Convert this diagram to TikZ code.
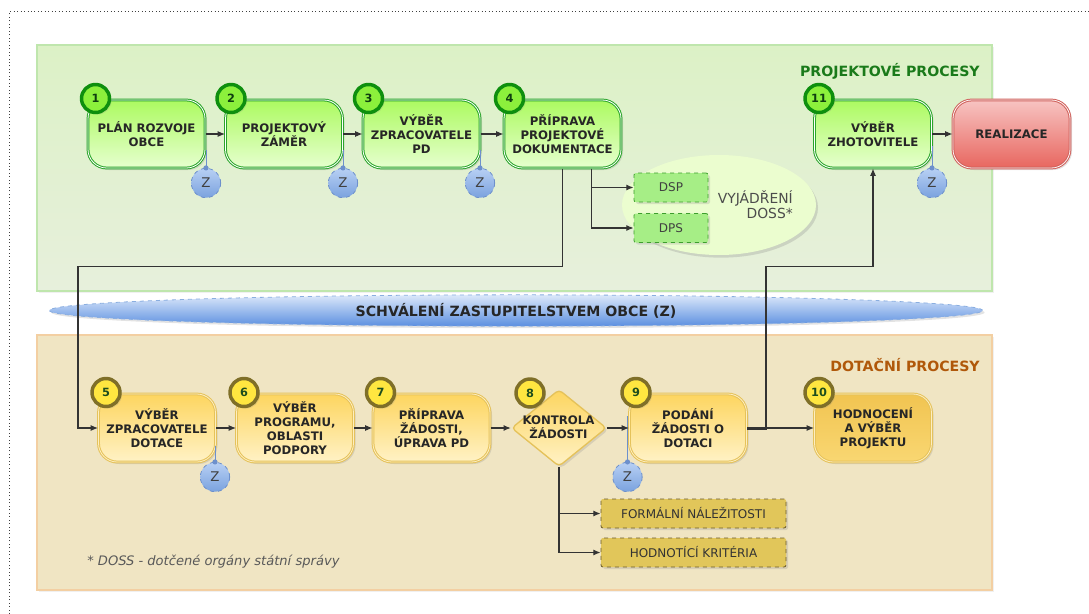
\documentclass[tikz,border=0pt]{standalone}
\usepackage{fontspec}
\setmainfont{DejaVu Sans}
\usetikzlibrary{shapes.geometric,shadows,calc,arrows.meta}
\definecolor{gborder}{HTML}{2AA52A}
\definecolor{gtop}{HTML}{ACFA60}
\definecolor{gbot}{HTML}{E6FFCF}
\definecolor{gnumfill}{HTML}{8CF03C}
\definecolor{gnumborder}{HTML}{0E8F0E}
\definecolor{gnumtext}{HTML}{0F3F0F}
\definecolor{yborder}{HTML}{E5C25A}
\definecolor{ytop}{HTML}{FDD55F}
\definecolor{ybot}{HTML}{FFF2C6}
\definecolor{ynumfill}{HTML}{FFE640}
\definecolor{ynumborder}{HTML}{7F6F28}
\definecolor{ynumtext}{HTML}{1D4D1D}
\definecolor{ytopB}{HTML}{F1C451}
\definecolor{ybotB}{HTML}{F9D772}
\definecolor{rtop}{HTML}{F7C4C2}
\definecolor{rbot}{HTML}{E8665F}
\definecolor{rborder}{HTML}{D0615C}
\definecolor{ztop}{HTML}{B8D0F4}
\definecolor{zbot}{HTML}{7AA2DE}
\definecolor{zborder}{HTML}{6D90CC}
\definecolor{btop}{HTML}{DCE8FA}
\definecolor{bbot}{HTML}{5B8FE0}
\definecolor{bborder}{HTML}{8AAEE0}
\definecolor{dspfill}{HTML}{A6EE86}
\definecolor{dspborder}{HTML}{3D9E2D}
\definecolor{ffill}{HTML}{E1C65A}
\definecolor{fborder}{HTML}{6B5B2B}
\definecolor{pgtop}{HTML}{DCF1C6}
\definecolor{pgbot}{HTML}{E7F0DC}
\definecolor{pgborder}{HTML}{BFE6AD}
\definecolor{ptfill}{HTML}{F0E5C3}
\definecolor{ptborder}{HTML}{F3CFA2}
\definecolor{dossfill}{HTML}{EBFDCF}
\definecolor{titleG}{HTML}{1A7A1A}
\definecolor{titleD}{HTML}{B0580A}
\begin{document}
\begin{tikzpicture}[x=0.75pt,y=-0.75pt]
\tikzset{
  shad/.style={drop shadow={shadow xshift=1.5pt,shadow yshift=-1.5pt,opacity=0.22}},
  boxbase/.style={rectangle, rounded corners=14pt, minimum width=87.75pt, minimum height=51pt,
    inner sep=1pt, align=center, font=\bfseries\fontsize{8.8}{10.4}\selectfont, text=black!85,
    line width=0.75pt, double distance=0.6pt, shad},
  gbox/.style={boxbase, draw=gborder, double=white, top color=gtop, bottom color=gbot},
  ybox/.style={boxbase, draw=yborder, double=white!60!ytop, top color=ytop, bottom color=ybot},
  rbox/.style={boxbase, draw=rborder, double=white!80!rtop, top color=rtop, bottom color=rbot},
  ydiam/.style={diamond, minimum width=71.25pt, minimum height=57.75pt, inner sep=0pt,
    rounded corners=3pt, draw=yborder, line width=1pt,
    top color=ytop, bottom color=ybot, shad},
  ntext/.style={align=center, inner sep=0pt, font=\bfseries\fontsize{8.8}{10.4}\selectfont, text=black!85},
  gnum/.style={circle, minimum size=21pt, inner sep=0pt, line width=2.6pt, draw=gnumborder,
    fill=gnumfill, font=\bfseries\fontsize{8.5}{9}\selectfont, text=gnumtext, shad},
  ynum/.style={circle, minimum size=21pt, inner sep=0pt, line width=2.6pt, draw=ynumborder,
    fill=ynumfill, font=\bfseries\fontsize{8.5}{9}\selectfont, text=ynumtext, shad},
  znode/.style={circle, minimum size=22pt, inner sep=0pt, draw=zborder, dashed, line width=0.6pt,
    top color=ztop, bottom color=zbot, font=\fontsize{10}{11}\selectfont, text=black!75},
  zline/.style={draw=zborder, line width=0.7pt},
  zdot/.style={fill=zborder},
  flow/.style={draw=black!80, line width=0.8pt, -{Latex[length=5.5pt,width=4.5pt]}},
  dbox/.style={rectangle, rounded corners=1.5pt, minimum width=55.5pt, minimum height=21.75pt,
    inner sep=0pt, draw=dspborder, dashed, line width=0.6pt, fill=dspfill,
    font=\fontsize{9}{10}\selectfont, text=black!75, shad},
  fbox/.style={rectangle, rounded corners=1.5pt, minimum width=138.75pt, minimum height=21.75pt,
    inner sep=0pt, draw=fborder, dashed, line width=0.6pt, fill=ffill,
    font=\fontsize{9}{10}\selectfont, text=black!80, shad},
  title/.style={anchor=east, inner sep=0pt, font=\bfseries\fontsize{10.6}{12}\selectfont},
  banner/.style={ellipse, minimum width=700pt, minimum height=23.5pt, inner sep=0pt,
    draw=bborder, dashed, line width=0.6pt, top color=btop, bottom color=bbot,
    font=\bfseries\fontsize{10.6}{12}\selectfont, text=black!85, shad},
  dossell/.style={ellipse, minimum width=145.5pt, minimum height=75pt, inner sep=0pt,
    fill=dossfill, drop shadow={shadow xshift=1.5pt,shadow yshift=-2pt,opacity=0.25}},
  dosstext/.style={anchor=east, align=right, inner sep=0pt,
    font=\fontsize{10.4}{11.3}\selectfont, text=black!70},
  frame/.style={draw=black!75, dotted, line width=0.6pt},
  panelG/.style={draw=pgborder, line width=1.2pt, top color=pgtop, bottom color=pgbot},
  panelT/.style={draw=ptborder, line width=1.2pt, fill=ptfill},
  foot/.style={anchor=west, inner sep=0pt, font=\itshape\fontsize{9.8}{11}\selectfont, text=black!65}
}
\useasboundingbox (0,0) rectangle (1089,614);
\draw[frame] (9.5,614) -- (9.5,11.5) -- (1089,11.5);
\path[panelG, drop shadow={shadow xshift=1.5pt,shadow yshift=-1.5pt,opacity=0.12}] (37,45) rectangle (992,291);
\path[panelT, drop shadow={shadow xshift=1.5pt,shadow yshift=-1.5pt,opacity=0.12}] (37,335) rectangle (992,590);

\node[banner] (zast) at (516,310.5) {SCHVÁLENÍ ZASTUPITELSTVEM OBCE (Z)};
\node[title, text=titleG] (tproj) at (980,71) {PROJEKTOVÉ PROCESY};
\node[title, text=titleD] (tdot) at (980,365) {DOTAČNÍ PROCESY};
\node[foot] (fn) at (87,562) {* DOSS - dotčené orgány státní správy};

\node[dossell] (doss) at (719,205) {};
\node[dosstext] (dosst) at (793,205) {VYJÁDŘENÍ\\DOSS*};

% green row
\node[gbox] (n1) at (146.5,134) {PLÁN ROZVOJE\\OBCE};
\node[gbox] (n2) at (284,134) {PROJEKTOVÝ\\ZÁMĚR};
\node[gbox] (n3) at (421.5,134) {VÝBĚR\\ZPRACOVATELE\\PD};
\node[gbox] (n4) at (562.5,134) {PŘÍPRAVA\\PROJEKTOVÉ\\DOKUMENTACE};
\node[gbox] (n11) at (873,134) {VÝBĚR\\ZHOTOVITELE};
\node[rbox] (real) at (1011.5,134) {REALIZACE};

% yellow row
\node[ybox] (n5) at (157,428) {VÝBĚR\\ZPRACOVATELE\\DOTACE};
\node[ybox] (n6) at (295,428) {VÝBĚR\\PROGRAMU,\\OBLASTI\\PODPORY};
\node[ybox] (n7) at (431.5,428) {PŘÍPRAVA\\ŽÁDOSTI,\\ÚPRAVA PD};
\node[ydiam] (n8) at (559,428) {};
\node[ntext] (n8t) at (558.5,427) {KONTROLA\\ŽÁDOSTI};
\node[ybox] (n9) at (688,428) {PODÁNÍ\\ŽÁDOSTI O\\DOTACI};
\node[ybox, top color=ytopB, bottom color=ybotB] (n10) at (873,428) {HODNOCENÍ\\A VÝBĚR\\PROJEKTU};

% sub boxes
\node[dbox] (dsp) at (671,187.5) {DSP};
\node[dbox] (dps) at (671,228) {DPS};
\node[fbox] (f1) at (693.5,513.5) {FORMÁLNÍ NÁLEŽITOSTI};
\node[fbox] (f2) at (693.5,552.5) {HODNOTÍCÍ KRITÉRIA};

% number circles
\node[gnum] (c1) at ($(n1.north west)+(8,-1)$) {1};
\node[gnum] (c2) at ($(n2.north west)+(6,-1)$) {2};
\node[gnum] (c3) at ($(n3.north west)+(6,-1)$) {3};
\node[gnum] (c4) at ($(n4.north west)+(6,-1)$) {4};
\node[gnum] (c11) at ($(n11.north west)+(5,-1)$) {11};
\node[ynum] (c5) at ($(n5.north west)+(8,-1)$) {5};
\node[ynum] (c6) at ($(n6.north west)+(8,-1)$) {6};
\node[ynum] (c7) at ($(n7.north west)+(8,-1)$) {7};
\node[ynum] (c8) at (530,393) {8};
\node[ynum] (c9) at ($(n9.north west)+(7,-1)$) {9};
\node[ynum] (c10) at ($(n10.north west)+(5,-1)$) {10};

% Z markers
\node[znode] (z1) at (206,183) {Z};
\node[znode] (z2) at (343,183) {Z};
\node[znode] (z3) at (480,183) {Z};
\node[znode] (z11) at (932,183) {Z};
\node[znode] (z5) at (215,477) {Z};
\node[znode] (z9) at (627.5,477) {Z};
\foreach \z/\h in {z1/18,z2/18,z3/18,z11/22,z5/16,z9/46}{
  \draw[zline] (\z.north) -- ++(0,-\h);
  \fill[zdot] (\z.north) circle (2.6);
}

% connectors
\coordinate (k1) at (78,266.5);
\coordinate (k2) at (766,266.5);
\draw[flow] (n1) -- (n2);
\draw[flow] (n2) -- (n3);
\draw[flow] (n3) -- (n4);
\draw[flow] (n11) -- (real);
\draw[flow] ([xshift=22pt]n4.south) |- (dsp.west);
\draw[flow] ([xshift=22pt]n4.south) |- (dps.west);
\draw[flow] (n4.south) |- (k1) |- (n5.west);
\draw[flow] (n5) -- (n6);
\draw[flow] (n6) -- (n7);
\draw[flow] (n7) -- (n8);
\draw[flow] (n8) -- (n9);
\draw[flow] (n9) -- (n10);
\draw[flow] ([yshift=-1.2pt]n9.east) -| (k2) -| (n11.south);
\draw[flow] (n8.south) |- (f1.west);
\draw[flow] (n8.south) |- (f2.west);
\end{tikzpicture}
\end{document}
